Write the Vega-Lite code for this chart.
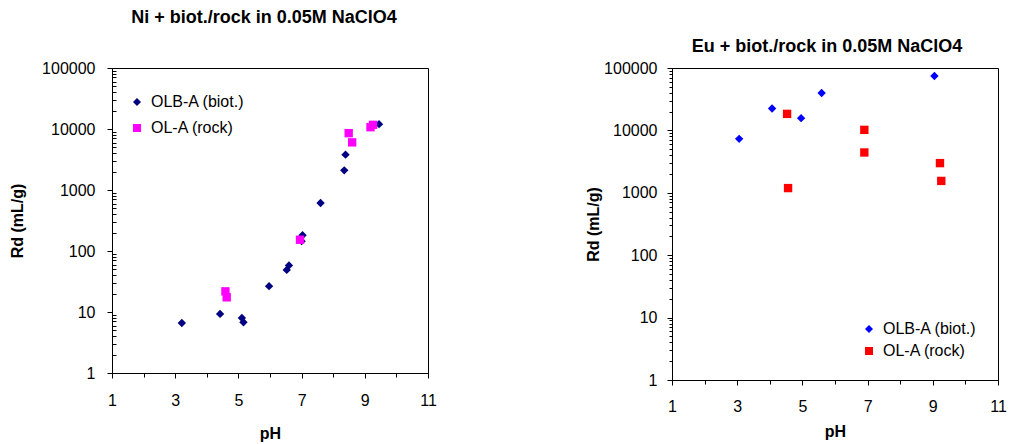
{
  "$schema": "https://vega.github.io/schema/vega-lite/v6.json",
  "background": "white",
  "padding": {"left": 9, "top": 8, "right": 5, "bottom": 5},
  "autosize": {"type": "pad"},
  "bounds": "flush",
  "spacing": 244,
  "config": {
    "font": "Liberation Sans",
    "view": {"stroke": "black", "strokeWidth": 1},
    "axis": {
      "grid": false,
      "domainColor": "black",
      "tickColor": "black",
      "labelColor": "black",
      "titleColor": "black",
      "labelFont": "Liberation Sans",
      "titleFont": "Liberation Sans",
      "labelFontSize": 16,
      "titleFontSize": 16,
      "titleFontWeight": "bold",
      "labelFlush": false,
      "labelOverlap": false
    },
    "title": {"font": "Liberation Sans", "fontSize": 18, "fontWeight": "bold", "color": "black", "anchor": "middle", "frame": "group", "baseline": "alphabetic"},
    "legend": {
      "orient": "none",
      "labelFont": "Liberation Sans",
      "labelFontSize": 16,
      "labelColor": "black",
      "symbolSize": 64,
      "symbolStrokeWidth": 0,
      "rowPadding": 10,
      "labelOffset": 6,
      "padding": 0
    }
  },
  "datasets": {
    "rd": [
      {"metal": "Ni", "series": "OLB-A (biot.)", "pH": 3.21, "Rd": 6.6},
      {"metal": "Ni", "series": "OLB-A (biot.)", "pH": 4.42, "Rd": 9.3},
      {"metal": "Ni", "series": "OLB-A (biot.)", "pH": 5.11, "Rd": 8.0},
      {"metal": "Ni", "series": "OLB-A (biot.)", "pH": 5.16, "Rd": 6.8},
      {"metal": "Ni", "series": "OLB-A (biot.)", "pH": 5.97, "Rd": 26.5},
      {"metal": "Ni", "series": "OLB-A (biot.)", "pH": 6.53, "Rd": 49},
      {"metal": "Ni", "series": "OLB-A (biot.)", "pH": 6.6, "Rd": 58},
      {"metal": "Ni", "series": "OLB-A (biot.)", "pH": 7.03, "Rd": 181},
      {"metal": "Ni", "series": "OLB-A (biot.)", "pH": 7.0, "Rd": 145},
      {"metal": "Ni", "series": "OLB-A (biot.)", "pH": 7.6, "Rd": 612},
      {"metal": "Ni", "series": "OLB-A (biot.)", "pH": 8.35, "Rd": 2100},
      {"metal": "Ni", "series": "OLB-A (biot.)", "pH": 8.39, "Rd": 3800},
      {"metal": "Ni", "series": "OLB-A (biot.)", "pH": 9.45, "Rd": 12000},
      {"metal": "Ni", "series": "OL-A (rock)", "pH": 4.59, "Rd": 21.8},
      {"metal": "Ni", "series": "OL-A (rock)", "pH": 4.63, "Rd": 17.4},
      {"metal": "Ni", "series": "OL-A (rock)", "pH": 6.95, "Rd": 153},
      {"metal": "Ni", "series": "OL-A (rock)", "pH": 8.49, "Rd": 8550},
      {"metal": "Ni", "series": "OL-A (rock)", "pH": 8.6, "Rd": 6040},
      {"metal": "Ni", "series": "OL-A (rock)", "pH": 9.18, "Rd": 10700},
      {"metal": "Ni", "series": "OL-A (rock)", "pH": 9.26, "Rd": 11700},
      {"metal": "Eu", "series": "OLB-A (biot.)", "pH": 3.06, "Rd": 7330},
      {"metal": "Eu", "series": "OLB-A (biot.)", "pH": 4.07, "Rd": 22400},
      {"metal": "Eu", "series": "OLB-A (biot.)", "pH": 4.96, "Rd": 15700},
      {"metal": "Eu", "series": "OLB-A (biot.)", "pH": 5.59, "Rd": 39800},
      {"metal": "Eu", "series": "OLB-A (biot.)", "pH": 9.05, "Rd": 74500},
      {"metal": "Eu", "series": "OL-A (rock)", "pH": 4.53, "Rd": 18400},
      {"metal": "Eu", "series": "OL-A (rock)", "pH": 4.56, "Rd": 1190},
      {"metal": "Eu", "series": "OL-A (rock)", "pH": 6.9, "Rd": 10200},
      {"metal": "Eu", "series": "OL-A (rock)", "pH": 6.9, "Rd": 4430},
      {"metal": "Eu", "series": "OL-A (rock)", "pH": 9.22, "Rd": 2990},
      {"metal": "Eu", "series": "OL-A (rock)", "pH": 9.26, "Rd": 1550}
    ]
  },
  "hconcat": [
    {
      "width": 316,
      "height": 305,
      "title": {"text": "Ni + biot./rock in 0.05M NaClO4", "offset": 33, "dx": -6},
      "data": {"name": "rd"},
      "transform": [{"filter": "datum.metal === 'Ni'"}],
      "mark": {"type": "point", "filled": true, "opacity": 1, "size": 70},
      "encoding": {
        "x": {
          "field": "pH", "type": "quantitative",
          "scale": {"domain": [1, 11], "nice": false, "zero": false},
          "axis": {
            "title": "pH",
            "values": [1, 2, 3, 4, 5, 6, 7, 8, 9, 10, 11],
            "labelExpr": "datum.value % 2 === 1 ? datum.label : ''",
            "tickSize": {"condition": {"test": "datum.value % 2 === 1", "value": 5}, "value": 4},
            "labelPadding": 14,
            "titlePadding": 17
          }
        },
        "y": {
          "field": "Rd", "type": "quantitative",
          "scale": {"type": "log", "domain": [1, 100000], "nice": false},
          "axis": {
            "title": "Rd (mL/g)",
            "values": [1, 2, 3, 4, 5, 6, 7, 8, 9, 10, 20, 30, 40, 50, 60, 70, 80, 90, 100, 200, 300, 400, 500, 600, 700, 800, 900, 1000, 2000, 3000, 4000, 5000, 6000, 7000, 8000, 9000, 10000, 20000, 30000, 40000, 50000, 60000, 70000, 80000, 90000, 100000],
            "labelExpr": "indexof([1, 10, 100, 1000, 10000, 100000], datum.value) >= 0 ? '' + datum.value : ''",
            "tickSize": {"condition": {"test": "indexof([1, 10, 100, 1000, 10000, 100000], datum.value) >= 0", "value": 5}, "value": -4},
            "labelPadding": 12,
            "titlePadding": 16
          }
        },
        "color": {
          "field": "series", "type": "nominal",
          "scale": {"domain": ["OLB-A (biot.)", "OL-A (rock)"], "range": ["#000080", "#FF00FF"]},
          "legend": {"title": null, "legendX": 17, "legendY": 26}
        },
        "shape": {
          "field": "series", "type": "nominal",
          "scale": {"domain": ["OLB-A (biot.)", "OL-A (rock)"], "range": ["diamond", "square"]},
          "legend": {"title": null, "legendX": 17, "legendY": 26}
        }
      }
    },
    {
      "width": 326,
      "height": 312,
      "title": {"text": "Eu + biot./rock in 0.05M NaClO4", "offset": 4, "dx": -8},
      "data": {"name": "rd"},
      "transform": [{"filter": "datum.metal === 'Eu'"}],
      "mark": {"type": "point", "filled": true, "opacity": 1, "size": 70},
      "encoding": {
        "x": {
          "field": "pH", "type": "quantitative",
          "scale": {"domain": [1, 11], "nice": false, "zero": false},
          "axis": {
            "title": "pH",
            "values": [1, 2, 3, 4, 5, 6, 7, 8, 9, 10, 11],
            "labelExpr": "datum.value % 2 === 1 ? datum.label : ''",
            "tickSize": {"condition": {"test": "datum.value % 2 === 1", "value": 5}, "value": 4},
            "labelPadding": 13,
            "titlePadding": 9
          }
        },
        "y": {
          "field": "Rd", "type": "quantitative",
          "scale": {"type": "log", "domain": [1, 100000], "nice": false},
          "axis": {
            "title": "Rd (mL/g)",
            "values": [1, 2, 3, 4, 5, 6, 7, 8, 9, 10, 20, 30, 40, 50, 60, 70, 80, 90, 100, 200, 300, 400, 500, 600, 700, 800, 900, 1000, 2000, 3000, 4000, 5000, 6000, 7000, 8000, 9000, 10000, 20000, 30000, 40000, 50000, 60000, 70000, 80000, 90000, 100000],
            "labelExpr": "indexof([1, 10, 100, 1000, 10000, 100000], datum.value) >= 0 ? '' + datum.value : ''",
            "tickSize": {"condition": {"test": "indexof([1, 10, 100, 1000, 10000, 100000], datum.value) >= 0", "value": 5}, "value": 3},
            "labelPadding": 10,
            "titlePadding": 2
          }
        },
        "color": {
          "field": "series", "type": "nominal",
          "scale": {"domain": ["OLB-A (biot.)", "OL-A (rock)"], "range": ["#0000FF", "#FF0000"]},
          "legend": {"title": null, "legendX": 189, "legendY": 253, "rowPadding": 6}
        },
        "shape": {
          "field": "series", "type": "nominal",
          "scale": {"domain": ["OLB-A (biot.)", "OL-A (rock)"], "range": ["diamond", "square"]},
          "legend": {"title": null, "legendX": 189, "legendY": 253, "rowPadding": 6}
        }
      }
    }
  ],
  "resolve": {"scale": {"color": "independent", "shape": "independent"}, "legend": {"color": "independent", "shape": "independent"}}
}
